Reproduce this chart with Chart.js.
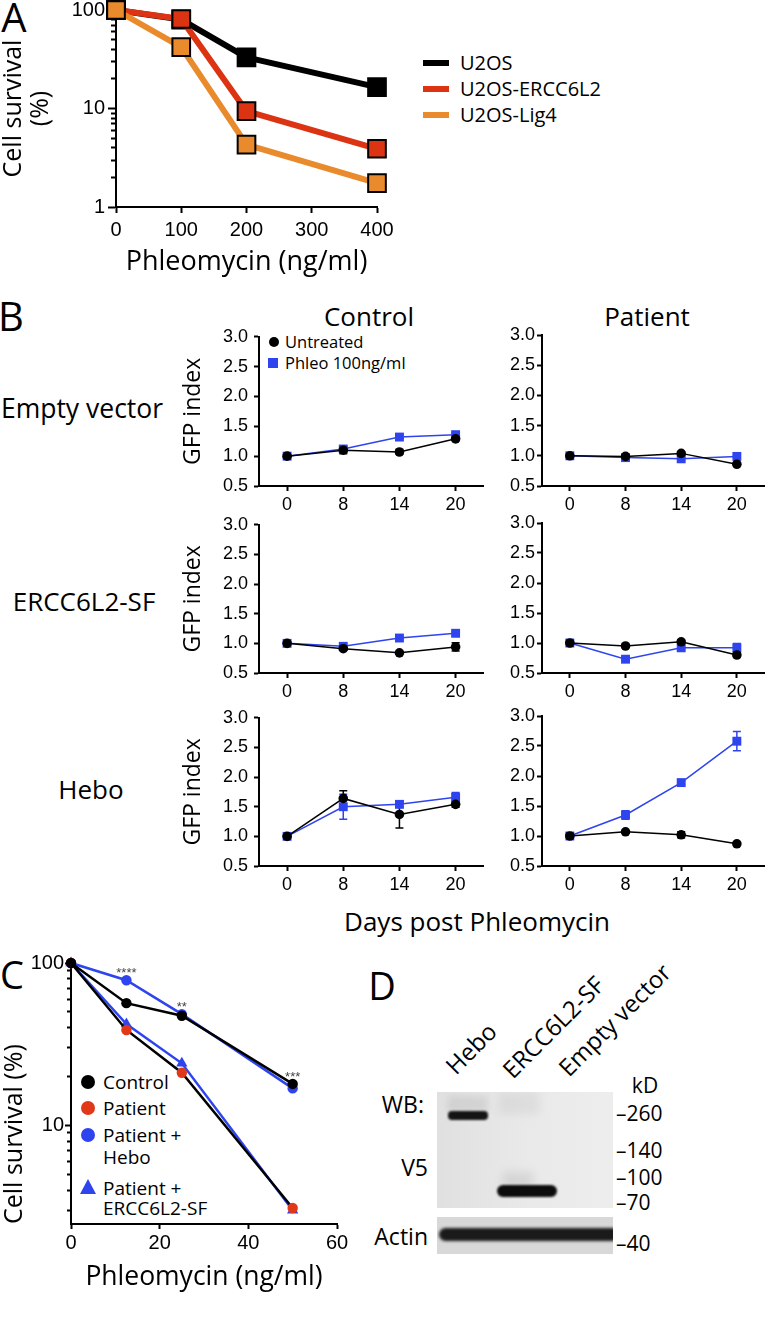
<!DOCTYPE html>
<html><head><meta charset="utf-8">
<script src="https://cdn.jsdelivr.net/npm/chart.js@4/dist/chart.umd.min.js"></script>
<style>
body{margin:0;background:#fff;}
#fig{position:relative;width:771px;height:1320px;overflow:hidden;background:#fff;font-family:'Open Sans',sans-serif;color:#000;}
canvas{position:absolute;}
.t{position:absolute;white-space:nowrap;line-height:1;}
.c{transform:translate(-50%,-50%);}
.lm{transform:translate(0,-50%);}
.rm{transform:translate(-100%,-50%);}
.box{position:absolute;overflow:hidden;}
.band{position:absolute;}
.rot{position:absolute;white-space:nowrap;line-height:1;transform-origin:0 100%;transform:rotate(-45deg);font-size:24px;}
</style></head>
<body><div id="fig">
<!-- panel letters -->
<div class="t c" style="left:14px;top:17px;font-size:40px;">A</div>
<div class="t c" style="left:11px;top:316px;font-size:40px;">B</div>
<div class="t c" style="left:12px;top:974px;font-size:38px;">C</div>
<div class="t c" style="left:382px;top:985px;font-size:38px;">D</div>

<!-- legend A -->
<div class="band" style="left:423px;top:60px;width:26px;height:6px;background:#000;"></div>
<div class="t lm" style="left:460px;top:63px;font-size:20px;">U2OS</div>
<div class="band" style="left:423px;top:86px;width:26px;height:6px;background:#dc3312;"></div>
<div class="t lm" style="left:460px;top:89px;font-size:20px;">U2OS-ERCC6L2</div>
<div class="band" style="left:423px;top:112px;width:26px;height:6px;background:#e98a2c;"></div>
<div class="t lm" style="left:460px;top:115px;font-size:20px;">U2OS-Lig4</div>

<!-- panel B texts -->
<div class="t c" style="left:369px;top:316px;font-size:26px;">Control</div>
<div class="t c" style="left:647px;top:316px;font-size:26px;">Patient</div>
<div class="t c" style="left:82px;top:408px;font-size:26.5px;">Empty vector</div>
<div class="t c" style="left:84px;top:601px;font-size:26px;">ERCC6L2-SF</div>
<div class="t c" style="left:91px;top:789px;font-size:26px;">Hebo</div>
<div class="t c" style="left:477px;top:921px;font-size:26px;">Days post Phleomycin</div>
<div class="band" style="left:269px;top:337px;width:10px;height:10px;border-radius:50%;background:#000;"></div>
<div class="t lm" style="left:285px;top:342px;font-size:16.5px;">Untreated</div>
<div class="band" style="left:268px;top:358px;width:10px;height:10px;background:#2e44ee;"></div>
<div class="t lm" style="left:285px;top:363px;font-size:16.5px;">Phleo 100ng/ml</div>

<!-- legend C -->
<div class="band" style="left:81px;top:1075px;width:14px;height:14px;border-radius:50%;background:#000;"></div>
<div class="t lm" style="left:103px;top:1082px;font-size:19px;">Control</div>
<div class="band" style="left:81px;top:1101px;width:14px;height:14px;border-radius:50%;background:#e2381a;"></div>
<div class="t lm" style="left:103px;top:1108px;font-size:19px;">Patient</div>
<div class="band" style="left:81px;top:1128px;width:14px;height:14px;border-radius:50%;background:#2e44ee;"></div>
<div class="t lm" style="left:103px;top:1135px;font-size:19px;">Patient +</div>
<div class="t lm" style="left:103px;top:1157px;font-size:19px;">Hebo</div>
<div class="band" style="left:80px;top:1179px;width:0;height:0;border-left:8.5px solid transparent;border-right:8.5px solid transparent;border-bottom:15px solid #2e44ee;"></div>
<div class="t lm" style="left:103px;top:1188px;font-size:19px;">Patient +</div>
<div class="t lm" style="left:103px;top:1208px;font-size:19px;">ERCC6L2-SF</div>

<!-- panel D blot -->
<div class="rot" style="left:458px;top:1054px;">Hebo</div>
<div class="rot" style="left:515px;top:1058px;">ERCC6L2-SF</div>
<div class="rot" style="left:571px;top:1056px;">Empty vector</div>
<div class="t c" style="left:645px;top:1085px;font-size:21px;">kD</div>
<div class="t rm" style="left:424px;top:1104px;font-size:23px;">WB:</div>
<div class="t rm" style="left:428px;top:1167px;font-size:23px;">V5</div>
<div class="t rm" style="left:428px;top:1236px;font-size:23px;">Actin</div>
<div class="t lm" style="left:616px;top:1113px;font-size:21px;">–260</div>
<div class="t lm" style="left:616px;top:1150px;font-size:21px;">–140</div>
<div class="t lm" style="left:616px;top:1177px;font-size:21px;">–100</div>
<div class="t lm" style="left:616px;top:1202px;font-size:21px;">–70</div>
<div class="t lm" style="left:616px;top:1243px;font-size:21px;">–40</div>
<div class="box" style="left:437px;top:1092px;width:176px;height:116px;background:linear-gradient(90deg,#e0e0e0,#e9e9e9 50%,#ededed);">
  <div class="band" style="left:62px;top:0;width:40px;height:22px;background:rgba(0,0,0,0.05);filter:blur(4px);"></div>
  <div class="band" style="left:11px;top:4px;width:40px;height:16px;background:rgba(0,0,0,0.07);filter:blur(3px);"></div>
  <div class="band" style="left:11px;top:19px;width:40px;height:9px;border-radius:4px;background:#141414;filter:blur(0.8px);"></div>
  <div class="band" style="left:66px;top:80px;width:30px;height:16px;background:rgba(0,0,0,0.08);filter:blur(4px);"></div>
  <div class="band" style="left:60px;top:93px;width:60px;height:12px;border-radius:6px;background:#0c0c0c;filter:blur(0.8px);"></div>
</div>
<div class="box" style="left:437px;top:1217px;width:176px;height:37px;background:#d8d8d8;">
  <div class="band" style="left:2px;top:11px;width:180px;height:13px;border-radius:7px;background:#1a1a1a;filter:blur(1.5px);"></div>
</div>
</div>
<script>
// ---------- DATA ----------
// Panel A
const doseA = [0, 100, 200, 400];
const doseTicksA = [0, 100, 200, 300, 400];
const survU2OS = [100, 80, 33, 16.5];
const survERCC6L2 = [100, 81, 9.4, 3.9];
const survLig4 = [100, 42, 4.3, 1.75];
const logTicksA = [1,2,3,4,5,6,7,8,9,10,20,30,40,50,60,70,80,90,100];
const logLabelsA = [1, 10, 100];

// Panel B
const days = ['0', '8', '14', '20'];
const gfpTicks = [0.5, 1.0, 1.5, 2.0, 2.5, 3.0];
const evCtrlUntreated = [1.00, 1.10, 1.07, 1.29];
const evCtrlUntreatedErr = [0.02, 0.06, 0.04, 0.03];
const evCtrlPhleo = [1.00, 1.12, 1.32, 1.36];
const evCtrlPhleoErr = [0.02, 0.03, 0.03, 0.03];
const evPatUntreated = [1.00, 0.99, 1.04, 0.86];
const evPatUntreatedErr = [0.02, 0.02, 0.02, 0.02];
const evPatPhleo = [1.00, 0.97, 0.95, 0.99];
const evPatPhleoErr = [0.02, 0.02, 0.02, 0.02];
const sfCtrlUntreated = [1.00, 0.91, 0.84, 0.94];
const sfCtrlUntreatedErr = [0.02, 0.02, 0.02, 0.07];
const sfCtrlPhleo = [1.00, 0.95, 1.09, 1.17];
const sfCtrlPhleoErr = [0.02, 0.02, 0.02, 0.03];
const sfPatUntreated = [1.00, 0.95, 1.02, 0.80];
const sfPatUntreatedErr = [0.02, 0.03, 0.03, 0.03];
const sfPatPhleo = [1.00, 0.73, 0.92, 0.92];
const sfPatPhleoErr = [0.02, 0.03, 0.03, 0.07];
const heboCtrlUntreated = [1.00, 1.64, 1.37, 1.54];
const heboCtrlUntreatedErr = [0.02, 0.13, 0.23, 0.05];
const heboCtrlPhleo = [1.00, 1.50, 1.54, 1.66];
const heboCtrlPhleoErr = [0.02, 0.21, 0.05, 0.08];
const heboPatUntreated = [1.00, 1.07, 1.02, 0.87];
const heboPatUntreatedErr = [0.02, 0.02, 0.05, 0.03];
const heboPatPhleo = [1.00, 1.35, 1.89, 2.58];
const heboPatPhleoErr = [0.02, 0.07, 0.03, 0.16];

// Panel C
const doseC = [0, 12.5, 25, 50];
const doseTicksC = [0, 20, 40, 60];
const survControl = [100, 56.6, 47.3, 18.0];
const survPatient = [100, 38.7, 21.1, 3.1];
const survPatientHebo = [100, 78.3, 48.4, 16.9];
const survPatientSF = [100, 42.1, 24.1, 3.0];
const logTicksC = [3,4,5,6,7,8,9,10,20,30,40,50,60,70,80,90,100];
const logLabelsC = [10, 100];
const sigLabels = ['', '****', '**', '***'];

// ---------- STYLE ----------
const BLACK = '#000000', RED = '#dc3312', ORANGE = '#e98a2c', BLUE = '#2e44ee', CRED = '#e2381a';
const ARIAL = "'Liberation Sans', Arial, sans-serif";
const OS = (size, lh) => ({family: "'Open Sans', sans-serif", size: size, lineHeight: lh || 1.2});
const AR = (size) => ({family: ARIAL, size: size, lineHeight: 1.2});

function place(id, box) {
  const c = document.createElement('canvas');
  c.id = id; c.width = box.width; c.height = box.height;
  Object.assign(c.style, {left: box.left + 'px', top: box.top + 'px', width: box.width + 'px', height: box.height + 'px'});
  document.getElementById('fig').appendChild(c);
  return c;
}
function geometry(box, area) {
  return {
    padding: {left: 0, top: area.y0 - box.top, right: box.left + box.width - area.x1, bottom: 0},
    yWidth: area.x0 - box.left,
    xHeight: box.top + box.height - area.y1
  };
}

const errorBars = {
  id: 'errorBars',
  beforeDatasetsDraw(chart) {
    const {ctx, scales: {y}} = chart;
    chart.data.datasets.forEach((ds, di) => {
      if (!ds.errors) return;
      const meta = chart.getDatasetMeta(di);
      ctx.save();
      ctx.strokeStyle = ds.borderColor; ctx.lineWidth = 1.5;
      meta.data.forEach((pt, i) => {
        const e = ds.errors[i]; if (!e) return;
        const v = ds.data[i];
        const yt = y.getPixelForValue(v + e), yb = y.getPixelForValue(v - e);
        const cap = 4;
        ctx.beginPath();
        ctx.moveTo(pt.x, yt); ctx.lineTo(pt.x, yb);
        ctx.moveTo(pt.x - cap, yt); ctx.lineTo(pt.x + cap, yt);
        ctx.moveTo(pt.x - cap, yb); ctx.lineTo(pt.x + cap, yb);
        ctx.stroke();
      });
      ctx.restore();
    });
  }
};

const sigStars = {
  id: 'sigStars',
  afterDatasetsDraw(chart, args, opts) {
    const labels = opts.labels || [];
    const {ctx, scales: {x, y}} = chart;
    ctx.save();
    ctx.font = '13px ' + ARIAL; ctx.fillStyle = '#444'; ctx.textAlign = 'center'; ctx.textBaseline = 'middle';
    labels.forEach((lab, i) => {
      if (!lab) return;
      const top = Math.max(...chart.data.datasets.map(d => d.data[i].y));
      ctx.fillText(lab, x.getPixelForValue(chart.data.datasets[0].data[i].x), y.getPixelForValue(top) - 7);
    });
    ctx.restore();
  }
};

const baseOpts = (g) => ({
  responsive: false, animation: false, events: [],
  layout: {padding: g.padding},
  plugins: {legend: {display: false}, tooltip: {enabled: false}}
});

// ---------- PANEL A ----------
(function () {
  const box = {left: 0, top: -10, width: 420, height: 300};
  const area = {x0: 116, y0: 10, x1: 377, y1: 207};
  const g = geometry(box, area);
  const pts = arr => doseA.map((d, i) => ({x: d, y: arr[i]}));
  const ds = (label, arr, color) => ({
    label, data: pts(arr), borderColor: color, backgroundColor: color, borderWidth: 6, tension: 0,
    borderJoinStyle: 'round', pointStyle: 'rect', pointRadius: 12.5, pointBackgroundColor: color,
    pointBorderColor: '#000', pointBorderWidth: 2, clip: false
  });
  const opts = baseOpts(g);
  opts.scales = {
    x: {
      type: 'linear', min: 0, max: 400,
      afterBuildTicks: s => { s.ticks = doseTicksA.map(v => ({value: v})); },
      afterFit: s => { s.height = g.xHeight; },
      border: {color: '#000', width: 2},
      grid: {drawOnChartArea: false, tickLength: 6, tickColor: '#000', tickWidth: 2},
      ticks: {font: AR(20), color: '#000', padding: 5, maxRotation: 0, autoSkip: false},
      title: {display: true, text: 'Phleomycin (ng/ml)', font: OS(27), color: '#000', padding: {top: 0, bottom: 11}}
    },
    y: {
      type: 'logarithmic', min: 1, max: 100,
      afterBuildTicks: s => { s.ticks = logTicksA.map(v => ({value: v})); },
      afterFit: s => { s.width = g.yWidth; },
      border: {color: '#000', width: 2},
      grid: {drawOnChartArea: false, tickLength: 8, tickColor: '#000', tickWidth: 2,
        tickBorderDash: c => (c.tick && !logLabelsA.includes(c.tick.value)) ? [0, 3, 20] : []},
      ticks: {font: AR(20), color: '#000', padding: 3, autoSkip: false,
        callback: v => logLabelsA.includes(v) ? String(v) : ''},
      title: {display: true, text: ['Cell survival', '(%)'], font: OS(25, 1.1), color: '#000', padding: {top: 0, bottom: 0}}
    }
  };
  new Chart(place('chartA', box), {
    type: 'line',
    data: {datasets: [ds('U2OS-Lig4', survLig4, ORANGE), ds('U2OS-ERCC6L2', survERCC6L2, RED), ds('U2OS', survU2OS, BLACK)]},
    options: opts
  });
})();

// ---------- PANEL B ----------
function gfpPanel(id, col, row, untreated, untreatedErr, phleo, phleoErr) {
  const cx = col === 0 ? {left: 180, width: 310, x0: 259, x1: 484, pad: 6} : {left: 490, width: 281, x0: 542, x1: 768, pad: 2};
  const ry = [{y0: 335, y1: 486}, {y0: 523, y1: 673}, {y0: 716, y1: 866}][row];
  const box = {left: cx.left, top: ry.y0 - 15, width: cx.width, height: (ry.y1 + 28) - (ry.y0 - 15)};
  const area = {x0: cx.x0, y0: ry.y0, x1: cx.x1, y1: ry.y1};
  const g = geometry(box, area);
  const opts = baseOpts(g);
  opts.scales = {
    x: {
      type: 'category', offset: true,
      afterFit: s => { s.height = g.xHeight; },
      border: {color: '#000', width: 2},
      grid: {offset: false, drawOnChartArea: false, tickLength: 5, tickColor: '#000', tickWidth: 2},
      ticks: {font: AR(18), color: '#000', padding: 3, maxRotation: 0, autoSkip: false}
    },
    y: {
      type: 'linear', min: 0.5, max: 3.0,
      afterBuildTicks: s => { s.ticks = gfpTicks.map(v => ({value: v})); },
      afterFit: s => { s.width = g.yWidth; },
      border: {color: '#000', width: 2},
      grid: {drawOnChartArea: false, tickLength: 5, tickColor: '#000', tickWidth: 2},
      ticks: {font: AR(18), color: '#000', padding: cx.pad, autoSkip: false, callback: v => Number(v).toFixed(1)},
      title: {display: col === 0, text: 'GFP index', font: OS(23), color: '#000', padding: {top: 0, bottom: 0}}
    }
  };
  new Chart(place(id, box), {
    type: 'line',
    data: {
      labels: days,
      datasets: [
        {label: 'Untreated', data: untreated, errors: untreatedErr, borderColor: BLACK, backgroundColor: BLACK,
          borderWidth: 1.5, tension: 0, pointStyle: 'circle', pointRadius: 4.8, pointBorderWidth: 0, clip: false},
        {label: 'Phleo 100ng/ml', data: phleo, errors: phleoErr, borderColor: BLUE, backgroundColor: BLUE,
          borderWidth: 1.5, tension: 0, pointStyle: 'rect', pointRadius: 6.3, pointBorderWidth: 0, clip: false}
      ]
    },
    options: opts,
    plugins: [errorBars]
  });
}
gfpPanel('b00', 0, 0, evCtrlUntreated, evCtrlUntreatedErr, evCtrlPhleo, evCtrlPhleoErr);
gfpPanel('b01', 1, 0, evPatUntreated, evPatUntreatedErr, evPatPhleo, evPatPhleoErr);
gfpPanel('b10', 0, 1, sfCtrlUntreated, sfCtrlUntreatedErr, sfCtrlPhleo, sfCtrlPhleoErr);
gfpPanel('b11', 1, 1, sfPatUntreated, sfPatUntreatedErr, sfPatPhleo, sfPatPhleoErr);
gfpPanel('b20', 0, 2, heboCtrlUntreated, heboCtrlUntreatedErr, heboCtrlPhleo, heboCtrlPhleoErr);
gfpPanel('b21', 1, 2, heboPatUntreated, heboPatUntreatedErr, heboPatPhleo, heboPatPhleoErr);

// ---------- PANEL C ----------
(function () {
  const box = {left: 0, top: 950, width: 360, height: 350};
  const area = {x0: 71, y0: 962, x1: 337, y1: 1224};
  const g = geometry(box, area);
  const pts = arr => doseC.map((d, i) => ({x: d, y: arr[i]}));
  const ds = (label, arr, lineColor, ptColor, style, r) => ({
    label, data: pts(arr), borderColor: lineColor, backgroundColor: ptColor, borderWidth: 2.5, tension: 0,
    pointStyle: style, pointRadius: r, pointBackgroundColor: ptColor, pointBorderColor: ptColor, pointBorderWidth: 0, clip: false
  });
  const opts = baseOpts(g);
  opts.plugins.sigStars = {labels: sigLabels};
  opts.scales = {
    x: {
      type: 'linear', min: 0, max: 60,
      afterBuildTicks: s => { s.ticks = doseTicksC.map(v => ({value: v})); },
      afterFit: s => { s.height = g.xHeight; },
      border: {color: '#000', width: 2},
      grid: {drawOnChartArea: false, tickLength: 5, tickColor: '#000', tickWidth: 2},
      ticks: {font: AR(20), color: '#000', padding: 2, maxRotation: 0, autoSkip: false},
      title: {display: true, text: 'Phleomycin (ng/ml)', font: OS(26.5), color: '#000', padding: {top: 0, bottom: 7}}
    },
    y: {
      type: 'logarithmic', min: 2.47, max: 100,
      afterBuildTicks: s => { s.ticks = logTicksC.map(v => ({value: v})); },
      afterFit: s => { s.width = g.yWidth; },
      border: {color: '#000', width: 2},
      grid: {drawOnChartArea: false, tickLength: 6, tickColor: '#000', tickWidth: 2,
        tickBorderDash: c => (c.tick && !logLabelsC.includes(c.tick.value)) ? [0, 2, 20] : []},
      ticks: {font: AR(20), color: '#000', padding: 1, autoSkip: false,
        callback: v => logLabelsC.includes(v) ? String(v) : ''},
      title: {display: true, text: 'Cell survival (%)', align: 'start', font: OS(25), color: '#000', padding: {top: 0, bottom: 0}}
    }
  };
  new Chart(place('chartC', box), {
    type: 'line',
    data: {datasets: [
      ds('Control', survControl, BLACK, BLACK, 'circle', 5.2),
      ds('Patient', survPatient, BLACK, CRED, 'circle', 5.2),
      ds('Patient + Hebo', survPatientHebo, BLUE, BLUE, 'circle', 5.2),
      ds('Patient + ERCC6L2-SF', survPatientSF, BLUE, BLUE, 'triangle', 6.5)
    ]},
    options: opts,
    plugins: [sigStars]
  });
})();
</script>
</body></html>
